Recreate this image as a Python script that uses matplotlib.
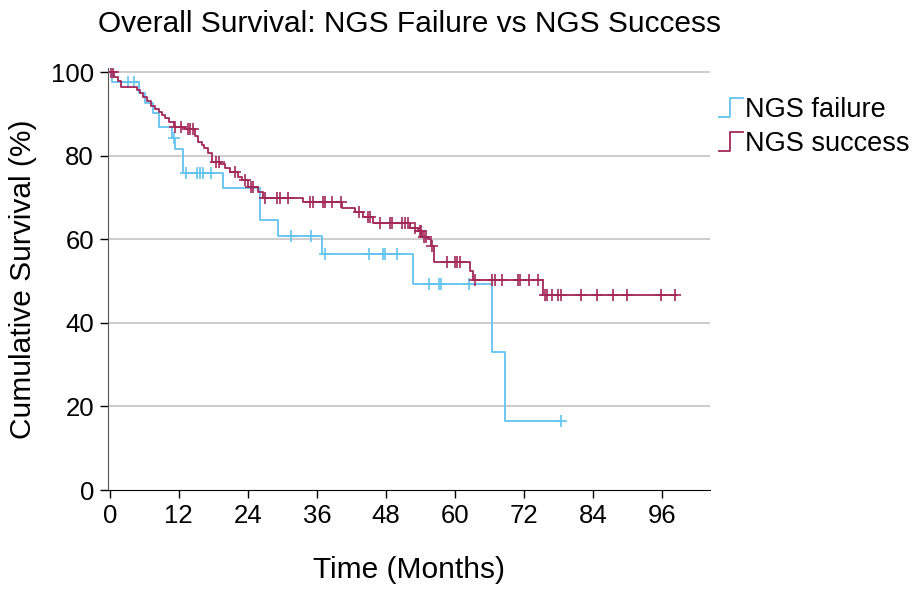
import numpy as np
import matplotlib
matplotlib.use("Agg")
import matplotlib.pyplot as plt
from matplotlib.lines import Line2D
from matplotlib.legend_handler import HandlerBase

plt.rcParams['font.family'] = ['Liberation Sans', 'DejaVu Sans']

# NGS failure: event times (months) and survival (%) after each step
fail_t = [0, 0.4, 5.0, 6.2, 7.5, 8.6, 10.9, 11.3, 12.7, 19.7, 26.1, 29.2, 36.9, 52.7, 66.4, 68.7]
fail_s = [100, 97.6, 95.1, 92.7, 90.2, 86.8, 84.2, 81.5, 75.8, 72.2, 64.6, 60.8, 56.5, 49.4, 33.0, 16.5]
fail_end = 78.4
fail_cens = [3.1, 4.3, 11.1, 13.2, 15.1, 15.6, 16.2, 17.6, 31.5, 35.0, 37.4, 45.0, 47.5,
             47.8, 49.9, 55.5, 57.2, 57.5, 62.4, 78.4]

# NGS success
succ_t = [0, 0.7, 1.4, 2.0, 4.7, 5.2, 5.8, 6.5, 7.2, 7.8, 8.5, 9.0, 9.6, 10.3, 11.2,
          13.0, 14.8, 15.3, 16.0, 16.4, 17.0, 17.7, 19.1, 20.0, 20.9, 22.3, 22.9,
          24.1, 25.7, 26.6, 33.6, 40.3, 42.6, 44.0, 45.7, 52.2, 53.6, 54.3, 55.3,
          55.8, 56.3, 62.6, 63.2, 75.2]
succ_s = [100, 98.8, 97.8, 96.4, 95.7, 94.9, 94.0, 93.0, 92.0, 91.2, 90.4, 89.7, 89.0,
          88.0, 86.8, 86.3, 84.7, 83.3, 82.5, 81.8, 80.6, 78.5, 78.0, 77.0, 76.0,
          74.9, 74.2, 72.4, 71.3, 70.0, 68.9, 67.5, 66.5, 65.3, 64.0, 62.7, 62.0,
          60.5, 60.0, 58.5, 54.6, 52.5, 50.2, 46.7]
succ_end = 98.4
succ_cens = [0.3, 0.5, 11.4, 12.4, 13.6, 13.9, 14.4, 18.4, 18.9, 21.7, 23.5, 24.5, 24.9,
             26.9, 29.0, 29.6, 31.0, 34.8, 35.3, 37.0, 37.4, 38.6, 40.2, 43.3, 44.9,
             45.3, 47.0, 48.7, 49.0, 50.8, 51.3, 51.9, 53.0, 53.9, 54.1, 54.6, 55.0,
             56.0, 58.6, 60.0, 60.4, 60.8, 63.4, 66.4, 67.0, 68.2, 71.0, 71.3, 72.9,
             74.4, 75.6, 76.0, 76.9, 77.9, 78.4, 81.9, 84.7, 87.5, 89.9, 95.8, 98.2]

blue = '#62C3F0'
red = '#A3285A'


def surv_at(times, surv, x):
    idx = np.searchsorted(times, x, side='right') - 1
    return np.array(surv)[idx]


def draw_km(ax, times, surv, end, cens, color, label):
    t = list(times) + [end]
    s = list(surv) + [surv[-1]]
    ax.step(t, s, where='post', color=color, lw=1.3, label=label)
    c = np.array(cens)
    ax.plot(c, surv_at(times, surv, c), linestyle='none', marker='+',
            markersize=8, markeredgewidth=1.2, color=color)


class StepHandler(HandlerBase):
    def create_artists(self, legend, orig_handle, xdescent, ydescent,
                       width, height, fontsize, trans):
        x0 = -xdescent
        y0 = -ydescent
        xs = [x0, x0 + width * 0.45, x0 + width * 0.45, x0 + width]
        ys = [y0, y0, y0 + height, y0 + height]
        ln = Line2D(xs, ys, color=orig_handle.get_color(), lw=1.3)
        ln.set_transform(trans)
        return [ln]


fig = plt.figure(figsize=(9.13, 5.89), dpi=100)
ax = fig.add_axes([108 / 913, 99 / 589, 602 / 913, 422 / 589])

draw_km(ax, fail_t, fail_s, fail_end, fail_cens, blue, 'NGS failure')
draw_km(ax, succ_t, succ_s, succ_end, succ_cens, red, 'NGS success')

ax.set_xlim(-0.3, 104.3)
ax.set_ylim(0, 101)
ax.set_xticks(np.arange(0, 97, 12))
ax.set_yticks(np.arange(0, 101, 20))
ax.tick_params(labelsize=18.5, length=6, width=1, colors='black', pad=4)
for y in [20, 40, 60, 80, 100]:
    ax.axhline(y, color='#C8C8C8', lw=1.3, zorder=0)
for side in ['top', 'right']:
    ax.spines[side].set_visible(False)
ax.spines['left'].set_color('#555555')
ax.spines['bottom'].set_color('black')

ax.set_xlabel('Time (Months)', fontsize=21.5, labelpad=20)
ax.set_ylabel('Cumulative Survival (%)', fontsize=21.5, labelpad=10)
ax.set_title('Overall Survival: NGS Failure vs NGS Success', fontsize=21.5, pad=26)

h = [Line2D([], [], color=blue), Line2D([], [], color=red)]
fig.legend(h, ['NGS failure', 'NGS success'], loc='upper left',
           bbox_to_anchor=(700 / 913, 1 - 78 / 589), frameon=False, fontsize=19.5,
           handler_map={Line2D: StepHandler()}, handlelength=0.9, handletextpad=0.05,
           labelspacing=0.3, borderpad=0.2)

fig.savefig('out.png', dpi=100)
